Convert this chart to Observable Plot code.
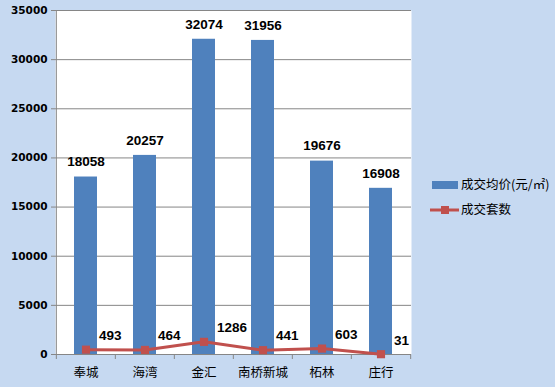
<!DOCTYPE html>
<html><head><meta charset="utf-8">
<script src="https://cdn.jsdelivr.net/npm/d3@7"></script>
<script src="https://cdn.jsdelivr.net/npm/@observablehq/plot@0.6"></script>
<style>
body{margin:0;background:#c6d9f1;}
#chart svg{display:block;background:#c6d9f1;}
</style></head>
<body><div id="chart"></div>
<script>
const categories = ["奉城","海湾","金汇","南桥新城","柘林","庄行"];
const avgPrice = [18058,20257,32074,31956,19676,16908];
const dealCount = [493,464,1286,441,603,31];
const yTicks = [0,5000,10000,15000,20000,25000,30000,35000];
const seriesNames = ["成交均价(元/㎡)","成交套数"];

const data = categories.map((c,i)=>({cat:c, price:avgPrice[i], count:dealCount[i]}));
const W=555,H=387,mL=55,mR=144,mT=10,mB=33;
const step=(W-mL-mR)/categories.length;
const numFont='"DejaVu Sans", sans-serif';
const lblFont='"Liberation Sans", Arial, sans-serif';
const cjk='"Noto Sans CJK SC", sans-serif';
const gray="#868686";

const plot = Plot.plot({
  width:W,height:H,marginLeft:mL,marginRight:mR,marginTop:mT,marginBottom:mB,
  style:{background:"#c6d9f1",fontFamily:cjk,overflow:"visible"},
  x:{domain:categories,paddingInner:0.61,paddingOuter:0.305,label:null},
  y:{domain:[0,35000],label:null},
  marks:[
    Plot.frame({fill:"white",stroke:null}),
    Plot.gridY(yTicks,{stroke:gray,strokeOpacity:1,strokeWidth:1}),
    Plot.axisY({ticks:yTicks,tickFormat:d=>String(d),tickSize:4,stroke:gray,tickPadding:4,fontFamily:numFont,fontWeight:"bold",fontSize:10.5,fill:"black",label:null}),
    Plot.axisX({tickSize:0,tickPadding:14,fontSize:12.5,fill:"black",fontFamily:cjk,label:null}),
    Plot.ruleX([categories[0]],{dx:-step/2,stroke:gray}),
    Plot.ruleY([0],{stroke:gray}),
    Plot.ruleX(categories,{x:d=>d,y1:0,y2:0,dx:-step/2,insetTop:5,stroke:gray}),
    Plot.ruleX([categories[categories.length-1]],{x:d=>d,y1:0,y2:0,dx:step/2,insetTop:5,stroke:gray}),
    Plot.barY(data,{x:"cat",y:"price",fill:"#4f81bd"}),
    Plot.text(data,{x:"cat",y:"price",text:d=>String(d.price),dy:-15,fontFamily:lblFont,fontWeight:"bold",fontSize:13.5,fill:"black"}),
    Plot.line(data,{x:"cat",y:"count",stroke:"#c0504d",strokeWidth:3}),
    Plot.dot(data,{x:"cat",y:"count",symbol:"square",r:4.6,fill:"#c0504d",stroke:null}),
    Plot.text(data,{x:"cat",y:"count",text:d=>String(d.count),dx:13,dy:-14,textAnchor:"start",fontFamily:lblFont,fontWeight:"bold",fontSize:13.5,fill:"black"})
  ]
});
document.getElementById("chart").appendChild(plot);

// legend
const svg=d3.select(plot);
const lg=svg.append("g").attr("text-anchor","start");
lg.append("rect").attr("x",432).attr("y",181).attr("width",26).attr("height",8).attr("fill","#4f81bd");
lg.append("line").attr("x1",430).attr("x2",459).attr("y1",210).attr("y2",210).attr("stroke","#c0504d").attr("stroke-width",3);
lg.append("rect").attr("x",441).attr("y",206).attr("width",8).attr("height",8).attr("fill","#c0504d");
lg.selectAll("text.l").data(seriesNames).join("text")
  .attr("x",461).attr("y",(d,i)=>i?210:185).attr("dy","0.35em")
  .attr("text-anchor","start")
  .attr("font-family",cjk).attr("font-size",12.5).attr("fill","black").text(d=>d);
</script></body></html>
